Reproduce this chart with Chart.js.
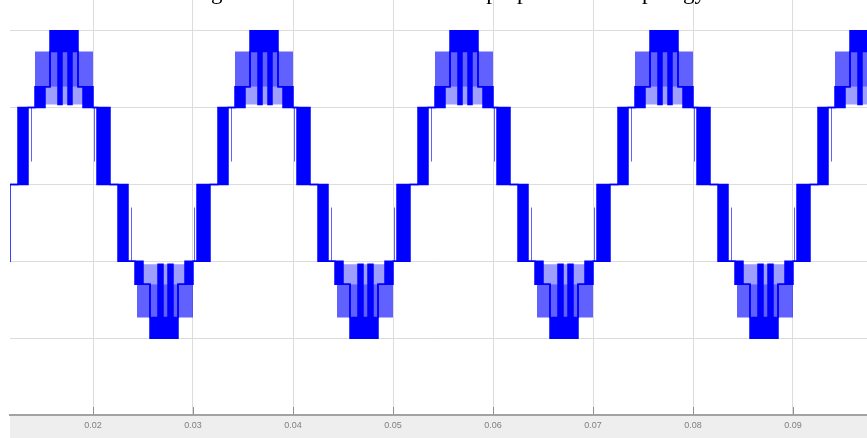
<!DOCTYPE html>
<html>
<head>
<meta charset="utf-8">
<script src="https://cdn.jsdelivr.net/npm/chart.js@4"></script>
<style>
  html, body { margin: 0; padding: 0; background: #fff; }
  #wrap { position: relative; width: 867px; height: 438px; }
</style>
</head>
<body>
<div id="wrap"><canvas id="wave"></canvas></div>
<script>
// x axis ticks (seconds)
const tickValues = [0.02, 0.03, 0.04, 0.05, 0.06, 0.07, 0.08, 0.09];
const tickLabels = ['0.02', '0.03', '0.04', '0.05', '0.06', '0.07', '0.08', '0.09'];

// centres of the positive and negative half cycles
const peakTimes = [0.0171, 0.0371, 0.0571, 0.0771, 0.0971];
const troughTimes = [0.0071, 0.0271, 0.0471, 0.0671, 0.0871];

// one half cycle: [offset from centre (s), low level, high level], held until the next row
const posSolid = [
    [-0.0050, 0, 0],
    [-0.0046, 0, 1],
    [-0.0036, 1, 1],
    [-0.0029, 1, 1.27],
    [-0.0019, 1.27, 1.27],
    [-0.0014, 1.73, 2],
    [-0.0006, 1.04, 2],
    [-0.0002, 1.73, 2],
    [0.0004, 1.04, 2],
    [0.0008, 1.73, 2],
    [0.0014, 1.27, 1.27],
    [0.0019, 1, 1.27],
    [0.0029, 1, 1],
    [0.0033, 0, 1],
    [0.0046, 0, 0]
];
const posMedium = [
    [-0.0033, 0.3, 1],
    [-0.0032, 1, 1],
    [-0.0029, 1.27, 1.73],
    [0.0029, 1, 1],
    [0.0030, 0.3, 1],
    [0.0031, 1, 1]
];
const posHatch = [
    [-0.0019, 1.04, 1.27],
    [0.0019, 1.04, 1.04]
];

const negSolid = [
    [-0.0050, 0, 0],
    [-0.0046, -1, 0],
    [-0.0036, -1, -1],
    [-0.0029, -1.3, -1],
    [-0.0021, -1.3, -1.3],
    [-0.0014, -2, -1.73],
    [-0.0006, -2, -1.04],
    [-0.0001, -2, -1.73],
    [0.0004, -2, -1.04],
    [0.0009, -2, -1.73],
    [0.0014, -1.3, -1.3],
    [0.0021, -1.3, -1],
    [0.0029, -1, -1],
    [0.0033, -1, 0],
    [0.0046, 0, 0]
];
const negMedium = [
    [-0.0033, -1, -0.3],
    [-0.0032, -1, -1],
    [-0.0027, -1.73, -1.3],
    [0.0029, -1, -1],
    [0.0030, -1, -0.3],
    [0.0031, -1, -1]
];
const negHatch = [
    [-0.0021, -1.3, -1.04],
    [0.0021, -1.04, -1.04]
];

const halves = [];
peakTimes.forEach(t => halves.push({ t: t, neg: false }));
troughTimes.forEach(t => halves.push({ t: t, neg: true }));
halves.sort((a, b) => a.t - b.t);

// top and bottom step envelopes of one layer
function buildLayer(posPattern, negPattern) {
    const top = [], bottom = [];
    halves.forEach(h => {
        const rows = h.neg ? negPattern : posPattern;
        rows.forEach(([dt, lo, hi]) => {
            const x = +(h.t + dt).toFixed(5);
            top.push({ x: x, y: hi });
            bottom.push({ x: x, y: lo });
        });
    });
    return { top, bottom };
}

const solid = buildLayer(posSolid, negSolid);
const medium = buildLayer(posMedium, negMedium);
const hatch = buildLayer(posHatch, negHatch);

const BLUE = '#0000ff';
const NONE = 'rgba(0,0,0,0)';

function envelope(data, fillColor, lineColor, lineWidth) {
    return {
        data: data,
        stepped: true,
        borderColor: lineColor,
        borderWidth: lineWidth,
        backgroundColor: fillColor || NONE,
        fill: fillColor ? '-1' : false,
        pointRadius: 0,
        pointHoverRadius: 0
    };
}

const paperPlugin = {
    id: 'paper',
    beforeDraw(chart) {
        const c = chart.ctx;
        c.save();
        c.fillStyle = '#ffffff';
        c.fillRect(0, 0, chart.width, chart.height);
        const a = chart.chartArea;
        c.fillStyle = '#eeeeee';
        c.fillRect(a.left, a.bottom, a.right - a.left, chart.height - a.bottom);
        c.restore();
    },
    afterDraw(chart) {
        const c = chart.ctx;
        const a = chart.chartArea;
        const xs = chart.scales.x;
        c.save();
        // small tick marks pointing up from the axis
        c.strokeStyle = '#8f8f8f';
        c.lineWidth = 1;
        tickValues.forEach(v => {
            const px = Math.round(xs.getPixelForValue(v)) + 0.5;
            c.beginPath();
            c.moveTo(px, a.bottom - 1);
            c.lineTo(px, a.bottom - 8);
            c.stroke();
        });
        // caption of the figure, cut by the top edge
        c.font = '23px "Liberation Serif", "Times New Roman", serif';
        c.fillStyle = '#000';
        c.textBaseline = 'alphabetic';
        const pre = 'Fig. 10 Simulated results of the ';
        const caption = pre + 'proposed MLI topology';
        const x0 = 492 - c.measureText(pre).width - c.measureText('p').width / 2;
        c.fillText(caption, x0, -1.5);
        c.restore();
    }
};

new Chart(document.getElementById('wave'), {
    type: 'line',
    data: {
        datasets: [
            envelope(solid.top, null, BLUE, 1.5),
            envelope(solid.bottom, BLUE, BLUE, 1.5),
            envelope(medium.top, null, NONE, 0),
            envelope(medium.bottom, 'rgba(0,0,255,0.62)', NONE, 0),
            envelope(hatch.top, null, NONE, 0),
            envelope(hatch.bottom, 'rgba(0,0,255,0.38)', NONE, 0)
        ]
    },
    options: {
        responsive: true,
        maintainAspectRatio: false,
        animation: false,
        events: [],
        layout: { padding: { left: 10, right: 0, top: 0, bottom: 0 } },
        plugins: {
            legend: { display: false },
            tooltip: { enabled: false }
        },
        scales: {
            x: {
                type: 'linear',
                min: 0.0117,
                max: 0.0974,
                afterBuildTicks: s => { s.ticks = tickValues.map(v => ({ value: v })); },
                afterFit: s => { s.height = 23; },
                ticks: {
                    callback: (v, i) => tickLabels[i],
                    font: { family: 'Liberation Sans', size: 9 },
                    color: '#808080',
                    padding: 5,
                    maxRotation: 0,
                    autoSkip: false
                },
                grid: { color: '#dcdcdc', lineWidth: 1, drawTicks: false },
                border: { display: true, color: '#a3a3a3', width: 2 }
            },
            y: {
                min: -3,
                max: 2.4,
                afterBuildTicks: s => { s.ticks = [-2, -1, 0, 1, 2].map(v => ({ value: v })); },
                afterFit: s => { s.width = 0; },
                ticks: { display: false },
                grid: { color: '#dcdcdc', lineWidth: 1, drawTicks: false },
                border: { display: false }
            }
        }
    },
    plugins: [paperPlugin]
});
</script>
</body>
</html>
